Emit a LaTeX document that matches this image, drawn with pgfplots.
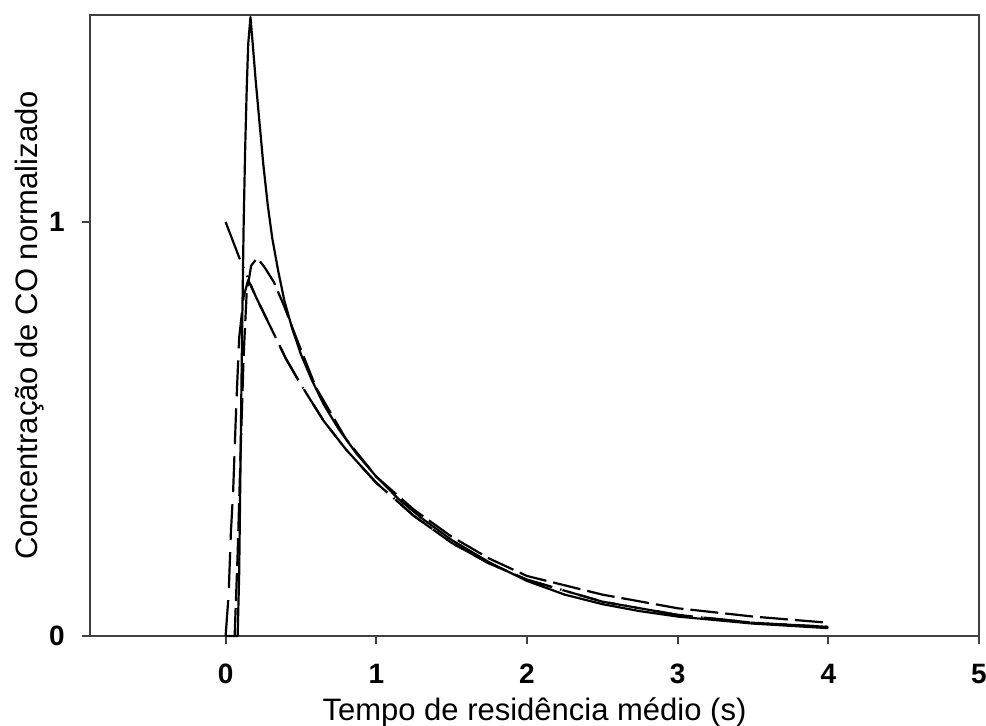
\documentclass[border=0pt]{standalone}
\usepackage{fontspec}
\setmainfont{Liberation Sans}
\usepackage{pgfplots}
\pgfplotsset{compat=1.18}
\begin{document}
\begin{tikzpicture}[x=1pt,y=1pt]
\path[use as bounding box] (-45,-44.5) rectangle (448,318);
\begin{axis}[
  at={(0,0)}, anchor=south west,
  width=444.5pt, height=310.5pt, scale only axis,
  xmin=-0.9, xmax=5, ymin=0, ymax=1.5,
  clip=false,
  axis line style={black!75, line width=1.2pt},
  xtick={0,1,2,3,4,5}, xticklabels={0,1,2,3,4,5},
  ytick={0,1}, yticklabels={0,1},
  xtick pos=bottom, ytick pos=left,
  tick align=outside, major tick length=4pt,
  tick style={black!75, line width=1pt},
  /pgf/number format/assume math mode=true,
  xticklabel style={font=\bfseries\fontsize{14}{14}\selectfont, inner sep=0pt, anchor=north, yshift=-10pt},
  yticklabel style={font=\bfseries\fontsize{14}{14}\selectfont, inner sep=0pt, anchor=east, xshift=-8.5pt},
  xlabel={Tempo de residência médio (s)},
  ylabel={Concentração de CO normalizado},
  label style={font=\fontsize{15.5}{18}\selectfont, inner sep=0pt},
  xlabel style={at={(axis description cs:0.5,-0.1353)}, anchor=base},
  ylabel style={at={(axis description cs:-0.0585,0.5)}, anchor=base},
  every axis plot/.append style={black, line width=1.1pt, line join=round},
]
% solid sharp pulse
\addplot[solid] coordinates {
(0.00,0) (0.08,0) (0.09,0.15) (0.10,0.45) (0.11,0.75) (0.12,1.0) (0.13,1.18)
(0.14,1.32) (0.15,1.43) (0.165,1.495) (0.18,1.43) (0.20,1.34) (0.225,1.24)
(0.25,1.14) (0.28,1.04) (0.31,0.96) (0.35,0.88) (0.39,0.81) (0.44,0.745)
(0.50,0.68) (0.57,0.62) (0.65,0.56) (0.75,0.50) (0.87,0.44) (1.0,0.385)
(1.15,0.33) (1.3,0.285) (1.5,0.232) (1.75,0.178) (2.0,0.133) (2.25,0.10)
(2.5,0.077) (2.75,0.06) (3.0,0.047) (3.5,0.03) (4.0,0.019)
};
% long dash with hump
\addplot[dash pattern=on 14pt off 3.5pt] coordinates {
(0.06,0) (0.08,0.2) (0.10,0.45) (0.12,0.68) (0.14,0.83) (0.17,0.895)
(0.21,0.913) (0.26,0.89) (0.32,0.855) (0.385,0.80) (0.48,0.71) (0.6,0.6)
(0.8,0.475) (1.0,0.385) (1.25,0.305) (1.5,0.24) (1.75,0.187) (2.0,0.145)
(2.5,0.10) (3.0,0.067) (3.5,0.047) (4.0,0.032)
};
% medium dash rising from zero
\addplot[dash pattern=on 18pt off 6pt] coordinates {
(0.00,0) (0.02,0.1) (0.035,0.25) (0.05,0.35) (0.07,0.55) (0.09,0.72)
(0.12,0.82) (0.15,0.86) (0.2,0.82) (0.3,0.745) (0.4,0.67) (0.5,0.607)
(0.65,0.52) (0.8,0.45) (1.0,0.37) (1.25,0.29) (1.5,0.225) (1.75,0.175)
(2.0,0.136) (2.5,0.083) (3.0,0.051) (3.5,0.032) (4.0,0.022)
};
% dash dot dot curve starting at 1
\addplot[dash pattern=on 20pt off 4pt on 0.8pt off 4pt on 0.8pt off 4pt] coordinates {
(0.0,1.0) (0.1,0.905) (0.2,0.82) (0.3,0.745) (0.4,0.67) (0.5,0.607)
(0.65,0.52) (0.8,0.45) (1.0,0.37) (1.25,0.29) (1.5,0.225) (1.75,0.175)
(2.0,0.136) (2.5,0.083) (3.0,0.051) (3.5,0.032) (4.0,0.022)
};
\end{axis}
\end{tikzpicture}
\end{document}
